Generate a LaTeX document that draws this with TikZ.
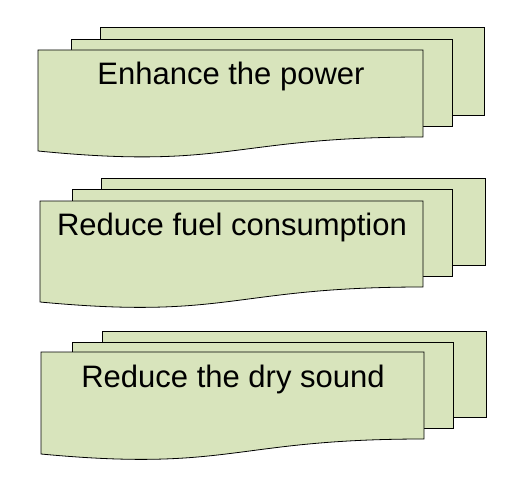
\documentclass[tikz,border=0pt]{standalone}
\usepackage{fontspec}
\setmainfont{Liberation Sans}
\usepackage{tikz}
\usepackage{xcolor}
\usetikzlibrary{positioning}

\definecolor{sheetgreen}{HTML}{D8E4BC}

\tikzset{
    sheet/.style={draw=black, line width=0.8pt, fill=sheetgreen},
    goaltext/.style={anchor=base, inner sep=0pt, font=\fontsize{31}{36}\selectfont}
}

\begin{document}
\begin{tikzpicture}[x=1pt, y=-1pt]
            \useasboundingbox (0, 0) rectangle (518, 481);

            % first stack
            \draw[sheet] (100, 27) rectangle (484, 115);
            \draw[sheet] (71, 39) rectangle (452, 126);
            \draw[sheet] (38, 50) -- (423, 50) -- (423, 137) .. controls (230, 137) and (230, 170) .. (38, 151) -- cycle;
            \node[goaltext] (power) at (231, 85) {Enhance the power};

            % second stack
            \draw[sheet] (101, 178) rectangle (485, 265);
            \draw[sheet] (72, 189) rectangle (452, 276);
            \draw[sheet] (40, 201) -- (423, 201) -- (423, 287) .. controls (231, 287) and (231, 320) .. (40, 302) -- cycle;
            \node[goaltext] (fuel) at (232, 235) {Reduce fuel consumption};

            % third stack
            \draw[sheet] (102, 331) rectangle (486, 417);
            \draw[sheet] (72, 342) rectangle (453, 428);
            \draw[sheet] (41, 352) -- (424, 352) -- (424, 439) .. controls (232, 439) and (232, 472) .. (41, 454) -- cycle;
            \node[goaltext] (sound) at (233, 387) {Reduce the dry sound};
        \end{tikzpicture}
\end{document}
